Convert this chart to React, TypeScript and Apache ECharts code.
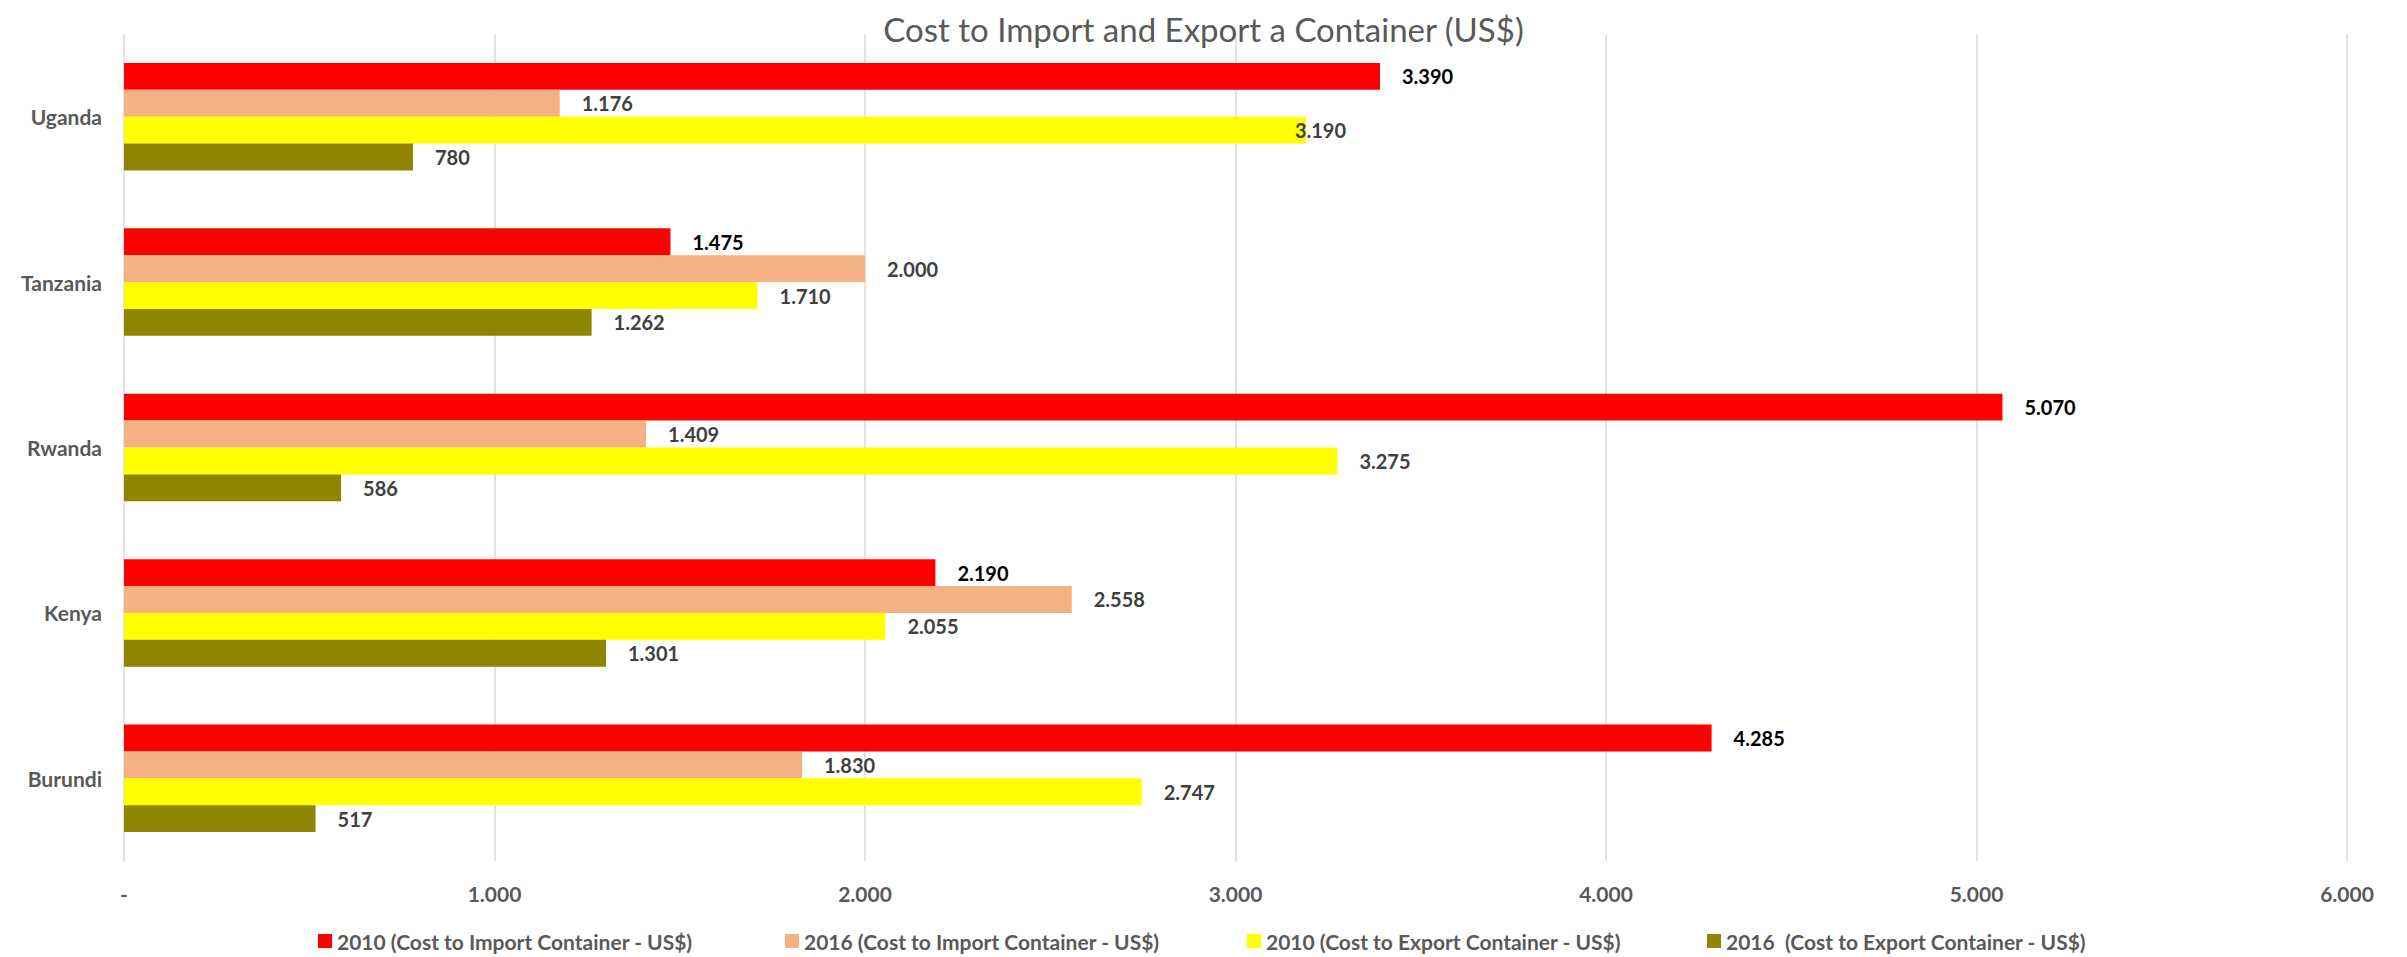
import React, { useEffect, useRef } from "react";
import * as echarts from "echarts";

const categories = ["Burundi", "Kenya", "Rwanda", "Tanzania", "Uganda"];
const seriesNames = [
  "2010 (Cost to Import Container - US$)",
  "2016 (Cost to Import Container - US$)",
  "2010 (Cost to Export Container - US$)",
  "2016  (Cost to Export Container - US$)",
];
const import2010 = [4285, 2190, 5070, 1475, 3390];
const import2016 = [1830, 2558, 1409, 2000, 1176];
const export2010 = [2747, 2055, 3275, 1710, 3190];
const export2016 = [517, 1301, 586, 1262, 780];
const colors = ["#FF0000", "#F4B183", "#FFFF00", "#8F8500"];
const labelColors = ["#000000", "#404040", "#404040", "#404040"];
const xTicks = [0, 1000, 2000, 3000, 4000, 5000, 6000];

const fmt = (v: number) => {
  if (v === 0) return "-";
  const s = Math.round(v).toString();
  return s.replace(/\B(?=(\d{3})+(?!\d))/g, ".");
};

const FONT = "Lato, 'Open Sans', sans-serif";

export default function App() {
  const ref = useRef<HTMLDivElement>(null);
  useEffect(() => {
    document.body.style.margin = "0";
    if (!ref.current) return;
    const chart = echarts.init(ref.current, undefined, { renderer: "svg" });
    const allData = [import2010, import2016, export2010, export2016];
    const series: any[] = [];
    for (let i = 0; i < 4; i++) {
      series.push({
        name: seriesNames[i],
        type: "bar",
        barGap: "0%",
        barCategoryGap: "35%",
        itemStyle: { color: colors[i] },
        label: {
          show: true,
          position: "right",
          distance: 22,
          formatter: (p: any) => fmt(p.value),
          color: labelColors[i],
          fontWeight: "bold",
          fontSize: 20,
          fontFamily: FONT,
        },
        data: allData[i].map((v, j) => {
          if (i === 2 && categories[j] === "Uganda") {
            return { value: v, label: { offset: [-33, 0] } };
          }
          return v;
        }),
      });
    }
    const legendLefts = [318, 785, 1247, 1707];
    const legends = seriesNames.map((n, i) => ({
      data: [n],
      left: legendLefts[i],
      top: 929,
      padding: 0,
      itemWidth: 14,
      itemHeight: 14,
      icon: "rect",
      textStyle: {
        color: "#595959",
        fontSize: 21,
        fontWeight: "bold",
        fontFamily: FONT,
        lineHeight: 24,
      },
      selectedMode: false,
    }));
    chart.setOption({
      animation: false,
      backgroundColor: "#FFFFFF",
      title: {
        text: "Cost to Import and Export a Container (US$)",
        left: "center",
        top: 7,
        textStyle: {
          color: "#595959",
          fontSize: 33,
          fontWeight: "normal",
          fontFamily: FONT,
        },
      },
      legend: legends,
      grid: { left: 124, right: 60, top: 34, bottom: 96, containLabel: false },
      xAxis: {
        type: "value",
        min: 0,
        max: 6000,
        interval: 1000,
        axisLine: { show: false },
        axisTick: { show: false },
        splitLine: { show: true, lineStyle: { color: "#D9D9D9", width: 1.5 } },
        axisLabel: {
          margin: 22,
          color: "#595959",
          fontSize: 21,
          fontWeight: "bold",
          fontFamily: FONT,
          formatter: (v: number) => (xTicks.includes(v) ? fmt(v) : ""),
        },
      },
      yAxis: {
        type: "category",
        data: categories,
        axisLine: { show: false },
        axisTick: { show: false },
        axisLabel: {
          margin: 22,
          color: "#595959",
          fontSize: 21,
          fontWeight: "bold",
          fontFamily: FONT,
        },
      },
      series,
    });
    return () => chart.dispose();
  }, []);
  return <div ref={ref} style={{ width: 2407, height: 957 }} />;
}
